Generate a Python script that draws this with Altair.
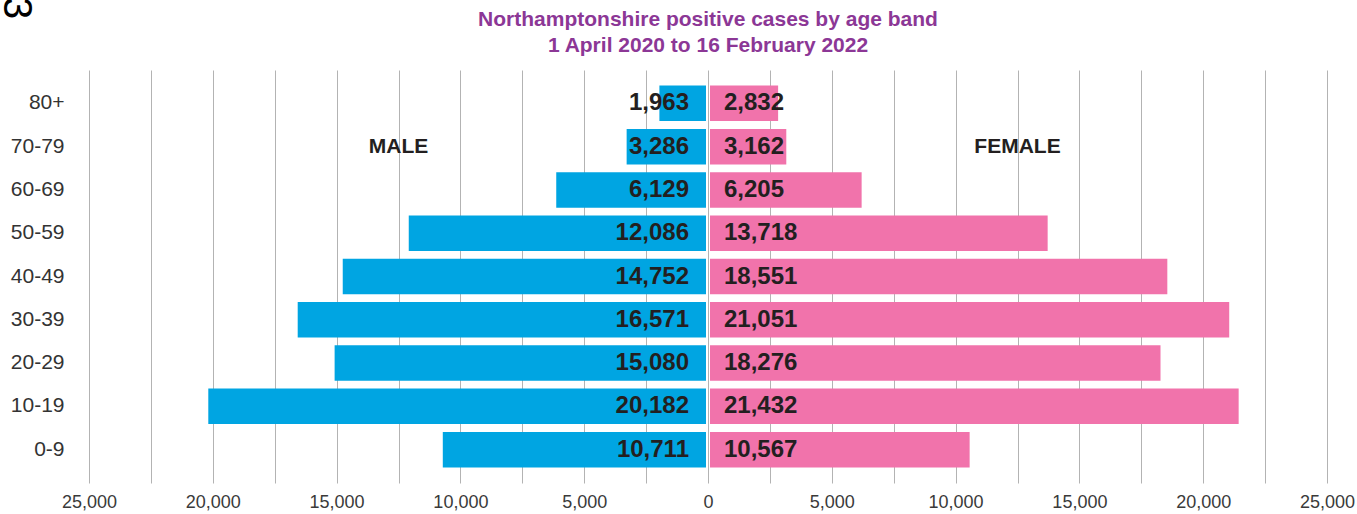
import altair as alt
import pandas as pd

ages = ["80+", "70-79", "60-69", "50-59", "40-49", "30-39", "20-29", "10-19", "0-9"]
male = [1963, 3286, 6129, 12086, 14752, 16571, 15080, 20182, 10711]
female = [2832, 3162, 6205, 13718, 18551, 21051, 18276, 21432, 10567]
grid_values = list(range(-25000, 25001, 2500))

title_line1 = "Northamptonshire positive cases by age band"
title_line2 = "1 April 2020 to 16 February 2022"

df = pd.DataFrame({"age": ages, "male": male, "female": female})

BLUE = "#00a5e2"
PINK = "#f173ab"
TXT = "#231f20"
PURPLE = "#8c3796"

y_axis = alt.Axis(title=None, domain=False, ticks=False, labelFontSize=21,
                  labelPadding=25, labelColor="#333333", grid=False)
y_enc = alt.Y("age:N", sort=ages, title=None,
              scale=alt.Scale(paddingInner=0.18, paddingOuter=0.36), axis=y_axis)
x_scale = alt.Scale(domain=[-25000, 25000], nice=False, zero=False)
x_axis = alt.Axis(title=None, values=grid_values, grid=True, gridColor="#b3b3b3",
                  gridWidth=1, domain=False, ticks=False, labelFontSize=18,
                  labelColor="#3a3a3a", labelPadding=10, labelFlush=False,
                  labelExpr="datum.value % 5000 == 0 ? format(abs(datum.value), ',') : ''")


def X(field):
    return alt.X(field, title=None, scale=x_scale, axis=x_axis)


base = alt.Chart(df).transform_calculate(neg="-datum.male", zero="0")

male_bars = base.mark_bar(color=BLUE, x2Offset=-2).encode(
    x=X("neg:Q"), x2="zero:Q", y=y_enc)

female_bars = base.mark_bar(color=PINK, xOffset=2).encode(
    x=X("zero:Q"), x2="female:Q", y=y_enc)

male_text = base.mark_text(align="right", baseline="middle", dx=-19, fontSize=24,
                           fontWeight="bold", color=TXT).encode(
    x=X("zero:Q"), y=y_enc, text=alt.Text("male:Q", format=","))
female_text = base.mark_text(align="left", baseline="middle", dx=16, fontSize=24,
                             fontWeight="bold", color=TXT).encode(
    x=X("zero:Q"), y=y_enc, text=alt.Text("female:Q", format=","))

row = base.transform_filter("datum.age == '70-79'")
male_lab = row.transform_calculate(px="-12500").mark_text(
    text="MALE", fontSize=21, fontWeight="bold", color=TXT, baseline="middle").encode(
    x=X("px:Q"), y=y_enc)
female_lab = row.transform_calculate(px="12500").mark_text(
    text="FEMALE", fontSize=21, fontWeight="bold", color=TXT, baseline="middle").encode(
    x=X("px:Q"), y=y_enc)

one = pd.DataFrame({"k": [0]})
page_num = alt.Chart(one).mark_text(text="3", angle=90, fontSize=40, color="#000000",
                                    align="center", baseline="middle").encode(
    x=alt.value(-73), y=alt.value(-62))

title1 = alt.Chart(one).mark_text(text=title_line1, fontSize=21, fontWeight="bold",
                                  color=PURPLE, align="center", baseline="alphabetic").encode(
    x=alt.value(619), y=alt.value(-44))
title2 = alt.Chart(one).mark_text(text=title_line2, fontSize=21, fontWeight="bold",
                                  color=PURPLE, align="center", baseline="alphabetic").encode(
    x=alt.value(619), y=alt.value(-18))

chart = alt.layer(
    male_bars, female_bars, male_text, female_text, male_lab, female_lab,
    page_num, title1, title2
).properties(
    width=1238,
    height=413,
    autosize=alt.AutoSizeParams(type="none"),
    padding={"left": 89, "top": 70, "right": 30, "bottom": 31},
).configure(font="Liberation Sans").configure_view(strokeWidth=0)

chart.save("out.html", embed_options={"renderer": "svg", "actions": False})
